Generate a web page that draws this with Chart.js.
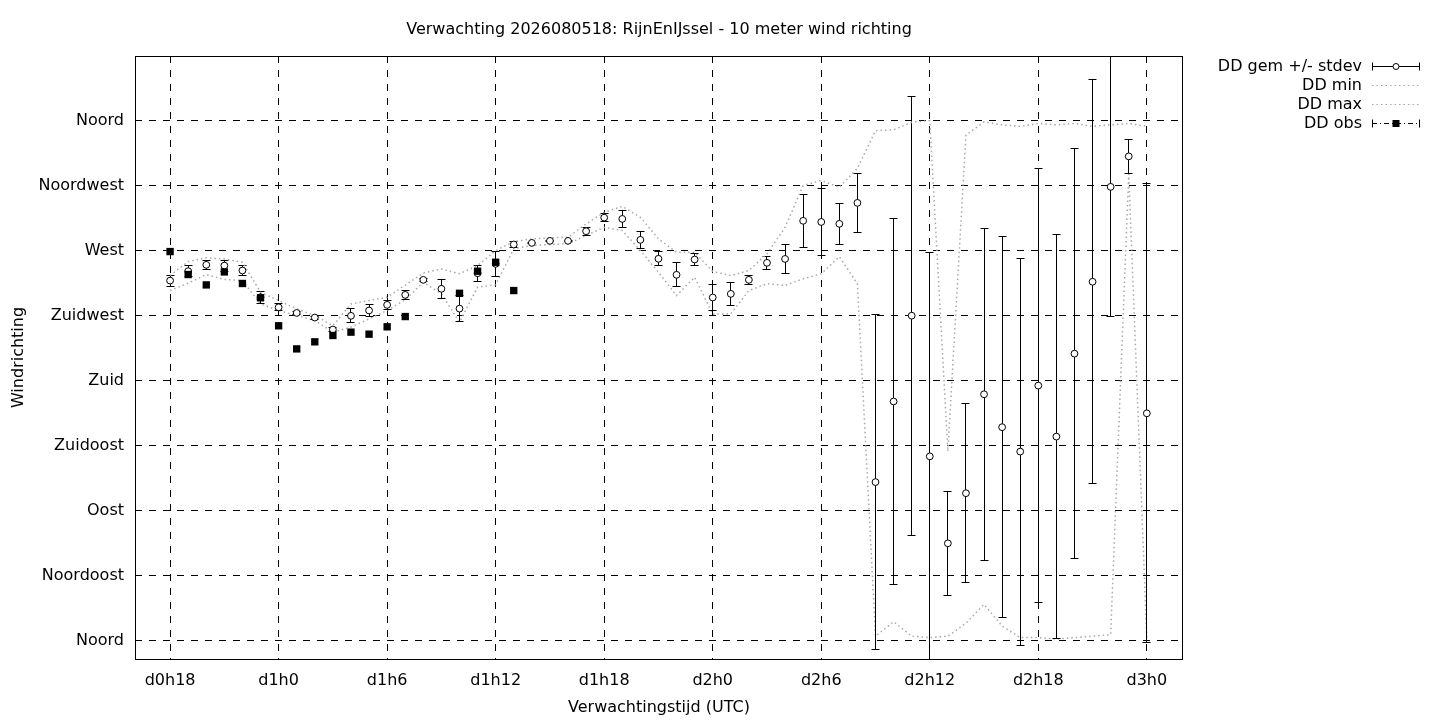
<!DOCTYPE html>
<html>
<head>
<meta charset="utf-8">
<script src="https://cdn.jsdelivr.net/npm/chart.js@4.4.1/dist/chart.umd.min.js"></script>
<style>
  html, body { margin: 0; padding: 0; background: #fff; }
  canvas { display: block; }
</style>
</head>
<body>
<canvas id="windChart" width="1440" height="720"></canvas>
<script>
// forecast hour since run (18 = d0h18 ... 72 = d3h0)
const hours = [18, 19, 20, 21, 22, 23, 24, 25, 26, 27, 28, 29, 30, 31, 32, 33, 34, 35, 36,
  37, 38, 39, 40, 41, 42, 43, 44, 45, 46, 47, 48, 49, 50, 51, 52, 53, 54, 55, 56, 57, 58,
  59, 60, 61, 62, 63, 64, 65, 66, 67, 68, 69, 70, 71, 72];

// DD gem (degrees) and its stdev
const ddGem = [249.2, 255.7, 260.1, 259.6, 256.2, 237.7, 230.7, 226.8, 223.6, 215.3, 224.8,
  228.5, 232.4, 239.3, 249.7, 243.5, 229.8, 254.3, 260.8, 274.2, 275.3, 276.7, 276.7, 283.4,
  292.8, 291.9, 277.4, 264.3, 253.2, 263.8, 237.5, 240.0, 249.7, 261.5, 264.2, 290.6, 289.8,
  288.5, 303.0, 109.7, 165.5, 224.9, 127.5, 67.3, 102.0, 170.5, 147.7, 130.8, 176.5, 141.2,
  198.6, 248.4, 314.1, 335.2, 157.3];
const ddStdev = [3.8, 3.7, 3.1, 3.8, 3.3, 4.2, 2.3, 1.0, 1.0, 1.5, 4.8, 4.3, 2.9, 3.0, 1.0,
  6.8, 9.2, 5.4, 8.5, 2.0, 0.6, 0.6, 0.6, 2.9, 2.6, 5.8, 6.1, 4.8, 8.3, 4.3, 9.3, 8.1, 3.0,
  4.5, 10.0, 18.5, 23.3, 14.4, 20.3, 116, 127, 152, 141, 36, 62, 115, 132, 134, 150, 140,
  142, 140, 90, 12, 159];

// DD min / DD max over the ensemble
const ddMin = [242.3, 247.4, 253.4, 250.0, 249.2, 233.0, 228.5, 225.0, 221.5, 213.5, 217.0,
  222.7, 228.5, 236.0, 248.0, 240.0, 220.4, 244.6, 246.4, 271.2, 273.5, 274.2, 274.6, 280.4,
  286.1, 283.9, 270.0, 255.0, 238.8, 251.5, 226.0, 226.2, 242.3, 247.0, 245.8, 250.4, 253.9,
  265.8, 247.0, 3, 13, 3, 2, 3, 12, 25, 10, 2, 2, 1, 2, 3, 4, 323, 2];
const ddMax = [252.7, 262.4, 265.0, 264.2, 261.9, 241.1, 235.4, 229.6, 225.0, 218.0, 233.0,
  235.4, 237.7, 246.0, 254.5, 257.3, 253.9, 259.6, 270.0, 276.2, 278.1, 278.8, 279.2, 288.5,
  296.5, 300.5, 293.0, 278.1, 268.8, 268.8, 255.5, 252.7, 256.2, 267.7, 286.1, 315.0, 318.5,
  313.8, 327.0, 353.0, 353.6, 358.8, 360.0, 131.0, 350.0, 359.0, 357.0, 356.0, 358.0, 357.0,
  358.0, 356.0, 357.0, 358.0, 356.0];

// DD obs (null = no observation)
const ddObs = [269.3, 253.4, 246.2, 255.2, 247.2, 237.3, 217.9, 201.9, 206.8, 211.2, 213.5,
  212.1, 217.2, 224.3, null, null, 240.4, 255.7, 261.9, 242.3];

const timeTicks = [18, 24, 30, 36, 42, 48, 54, 60, 66, 72];
const timeLabels = ["d0h18", "d1h0", "d1h6", "d1h12", "d1h18", "d2h0", "d2h6", "d2h12", "d2h18", "d3h0"];
const dirTicks = [0, 45, 90, 135, 180, 225, 270, 315, 360];
const dirLabels = ["Noord", "Noordoost", "Oost", "Zuidoost", "Zuid", "Zuidwest", "West", "Noordwest", "Noord"];

const FONT = '"DejaVu Sans", sans-serif';
const GREY = "#a8a8a8";

const pts = (arr) => arr.map((v, i) => ({ x: hours[i], y: v }));
// same pixel snapping as Chart.js uses for 1px grid lines
const snap = (p) => Math.round(p - 0.5) + 0.5;

// error bars, frame, title and gnuplot style key
const gnuplotLook = {
  id: "gnuplotLook",
  beforeDatasetDraw(chart, args) {
    if (args.index !== 2) return;
    const { ctx, chartArea: a } = chart;
    const xs = chart.scales.x, ys = chart.scales.y;
    ctx.save();
    ctx.beginPath();
    ctx.rect(a.left, a.top, a.right - a.left, a.bottom - a.top);
    ctx.clip();
    ctx.strokeStyle = "#000";
    ctx.lineWidth = 1;
    hours.forEach((h, i) => {
      const x = snap(xs.getPixelForValue(h));
      const y1 = snap(ys.getPixelForValue(ddGem[i] - ddStdev[i]));
      const y2 = snap(ys.getPixelForValue(ddGem[i] + ddStdev[i]));
      ctx.beginPath();
      ctx.moveTo(x, y1); ctx.lineTo(x, y2);
      ctx.moveTo(x - 4, y1); ctx.lineTo(x + 4, y1);
      ctx.moveTo(x - 4, y2); ctx.lineTo(x + 4, y2);
      ctx.stroke();
    });
    ctx.restore();
  },
  afterDraw(chart) {
    const { ctx, chartArea: a } = chart;
    ctx.save();
    ctx.strokeStyle = "#000";
    ctx.lineWidth = 1;
    ctx.strokeRect(a.left + 0.5, a.top + 0.5, a.right - a.left - 1, a.bottom - a.top);

    ctx.fillStyle = "#000";
    ctx.font = "16px " + FONT;
    ctx.textAlign = "center";
    ctx.textBaseline = "middle";
    ctx.fillText("Verwachting 2026080518: RijnEnIJssel - 10 meter wind richting", (a.left + a.right) / 2, 30);
    ctx.fillText("Verwachtingstijd (UTC)", (a.left + a.right) / 2, 708);
    ctx.save();
    ctx.translate(19, (a.top + a.bottom) / 2);
    ctx.rotate(-Math.PI / 2);
    ctx.fillText("Windrichting", 0, 0);
    ctx.restore();

    // key
    const keys = ["DD gem +/- stdev", "DD min", "DD max", "DD obs"];
    const x0 = 1372, x1 = 1420, xm = (x0 + x1) / 2;
    ctx.textAlign = "right";
    keys.forEach((k, i) => {
      const y = 67 + i * 19;
      ctx.fillStyle = "#000";
      ctx.fillText(k, 1362, y);
      const yl = y - 0.5;
      ctx.beginPath();
      if (i === 1 || i === 2) {
        ctx.strokeStyle = GREY;
        ctx.setLineDash([1.5, 3]);
        ctx.moveTo(x0, yl); ctx.lineTo(x1, yl);
        ctx.stroke();
        ctx.setLineDash([]);
        return;
      }
      ctx.strokeStyle = "#000";
      if (i === 3) ctx.setLineDash([5, 3, 1, 3]);
      ctx.moveTo(x0, yl); ctx.lineTo(x1, yl);
      ctx.stroke();
      ctx.setLineDash([]);
      ctx.beginPath();
      ctx.moveTo(x0 + 0.5, yl - 4); ctx.lineTo(x0 + 0.5, yl + 4);
      ctx.moveTo(x1 - 0.5, yl - 4); ctx.lineTo(x1 - 0.5, yl + 4);
      ctx.stroke();
      if (i === 0) {
        ctx.beginPath();
        ctx.fillStyle = "#fff";
        ctx.arc(xm, yl, 3, 0, Math.PI * 2);
        ctx.fill();
        ctx.stroke();
      } else {
        ctx.fillStyle = "#000";
        ctx.fillRect(xm - 3.5, yl - 3.5, 7, 7);
      }
    });
    ctx.restore();
  },
};

const ctx = document.getElementById("windChart").getContext("2d");

new Chart(ctx, {
  type: "line",
  data: {
    datasets: [
      {
        label: "DD obs",
        data: pts(ddObs),
        showLine: false,
        pointStyle: "rect",
        pointRadius: 5.2,
        pointBackgroundColor: "#000",
        pointBorderColor: "#000",
        pointBorderWidth: 0,
        order: 0,
      },
      {
        label: "DD gem +/- stdev",
        data: pts(ddGem),
        showLine: false,
        pointStyle: "circle",
        pointRadius: 3.4,
        pointBackgroundColor: "#fff",
        pointBorderColor: "#000",
        pointBorderWidth: 1,
        order: 1,
      },
      {
        label: "DD max",
        data: pts(ddMax),
        borderColor: GREY,
        borderWidth: 1.5,
        borderDash: [1.5, 3],
        pointRadius: 0,
        order: 2,
      },
      {
        label: "DD min",
        data: pts(ddMin),
        borderColor: GREY,
        borderWidth: 1.5,
        borderDash: [1.5, 3],
        pointRadius: 0,
        order: 3,
      },
    ],
  },
  options: {
    responsive: false,
    animation: false,
    devicePixelRatio: 1,
    layout: { padding: { left: 0, right: 257, top: 56, bottom: 0 } },
    plugins: {
      legend: { display: false },
      title: { display: false },
      tooltip: { enabled: false },
    },
    scales: {
      x: {
        type: "linear",
        min: 16.06,
        max: 74,
        bounds: "data",
        afterBuildTicks: (s) => { s.ticks = timeTicks.map((v) => ({ value: v })); },
        afterFit: (s) => { s.height = 61; },
        ticks: {
          autoSkip: false,
          maxRotation: 0,
          padding: 12,
          color: "#000",
          font: { family: FONT, size: 16 },
          callback: (v, i) => timeLabels[i],
        },
        grid: { color: "#000", lineWidth: 1, drawTicks: false },
        border: { display: false, dash: [7, 7] },
      },
      y: {
        type: "linear",
        min: -12.8,
        max: 404.7,
        bounds: "data",
        afterBuildTicks: (s) => { s.ticks = dirTicks.map((v) => ({ value: v })); },
        afterFit: (s) => { s.width = 135; },
        ticks: {
          padding: 11,
          color: "#000",
          font: { family: FONT, size: 16 },
          callback: (v, i) => dirLabels[i],
        },
        grid: { color: "#000", lineWidth: 1, drawTicks: false },
        border: { display: false, dash: [7, 7] },
      },
    },
  },
  plugins: [gnuplotLook],
});
</script>
</body>
</html>
